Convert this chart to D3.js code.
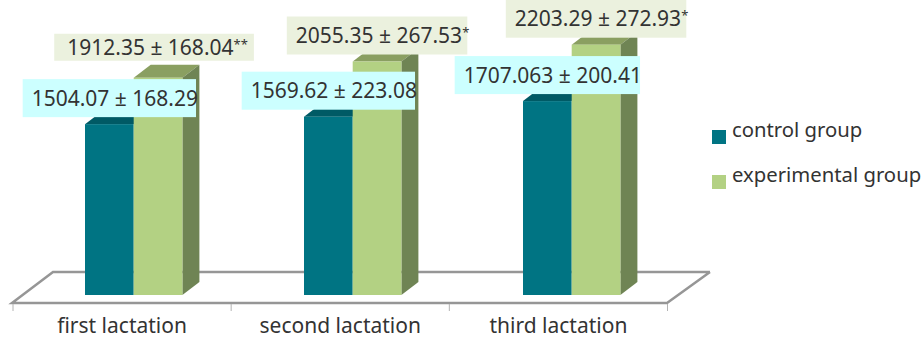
<!DOCTYPE html>
<html>
<head>
<meta charset="utf-8">
<script src="https://cdn.jsdelivr.net/npm/d3@7"></script>
<style>
	html, body {margin: 0; padding: 0; background: #fff}
	svg {display: block}
	text {font-family: "Noto Sans", sans-serif; fill: #333}
</style>
</head>
<body>
<svg id="chart" width="923" height="340"></svg>
<script>
var categories = ['first lactation', 'second lactation', 'third lactation']
var series_names = ['control group', 'experimental group']
var control_values = [1504.07, 1569.62, 1707.063]
var experimental_values = [1912.35, 2055.35, 2203.29]
var control_labels = ['1504.07 ± 168.29', '1569.62 ± 223.08', '1707.063 ± 200.41']
var experimental_labels = ['1912.35 ± 168.04', '2055.35 ± 267.53', '2203.29 ± 272.93']
var experimental_marks = ['**', '*', '*']

function main(){
	var svg = d3.select('svg#chart')
	var base = 295, depth_x = 17, depth_y = 13, bar_w = 48.7
	var colors = {
		control: {front: '#007483', top: '#005a65'},
		experimental: {front: '#b3d183', top: '#8a9f61', side: '#6f8454'}
	}

	var x = d3.scaleBand().domain(categories).range([13, 667.5])
	// bars drift a little against the axis bands in the original
	var x_bars = d3.scaleBand().domain(categories).range([85, 742])
	var y = d3.scaleLinear().domain([0, 2500]).range([base, base - 284])

	// floor of the 3d box
	svg.append('path')
		.attr('d', d3.line()([[710, 272], [53, 272], [12, 303], [667, 303], [710, 272]]))
		.attr('fill', 'none')
		.attr('stroke', '#969696')
		.attr('stroke-width', 2.5)

	// axis, ticks sit on band edges so labels are drawn by the axis without ticks
	var axis = svg.append('g')
		.attr('transform', 'translate(0,304)')
		.call(d3.axisBottom(x).tickSize(0).tickPadding(14))
	axis.select('.domain').remove()
	axis.selectAll('text').style('font-size', '21px').attr('fill', '#333')
	svg.selectAll('line.tick')
		.data(categories.concat(['end']))
		.enter()
		.append('line')
		.attr('class', 'tick')
		.attr('x1', function(d, i){return 13 + i * x.step()})
		.attr('x2', function(d, i){return 13 + i * x.step()})
		.attr('y1', 304)
		.attr('y2', 311)
		.attr('stroke', '#b4b4b4')

	var left = function(c){return x_bars(c)}

	function draw_bars(values, off, col){
		var g = svg.append('g')
		categories.forEach(function(c, i){
			var x0 = left(c) + off, x1 = x0 + bar_w, top = y(values[i])
			g.append('path')
				.attr('d', d3.line()([[x0, top], [x0 + depth_x, top - depth_y], [x1 + depth_x, top - depth_y], [x1, top]]) + 'Z')
				.attr('fill', col.top)
			if(col.side){
				g.append('path')
					.attr('d', d3.line()([[x1, top], [x1 + depth_x, top - depth_y], [x1 + depth_x, base - depth_y], [x1, base]]) + 'Z')
					.attr('fill', col.side)
			}
			g.append('rect')
				.attr('x', x0)
				.attr('y', top)
				.attr('width', bar_w)
				.attr('height', base - top)
				.attr('fill', col.front)
		})
	}
	draw_bars(control_values, 0, colors.control)
	draw_bars(experimental_values, bar_w, colors.experimental)

	function draw_labels(values, labels, marks, off, fill){
		categories.forEach(function(c, i){
			var first_exp = marks && i === 0
			var cx = left(c) + off + bar_w / 2
			var cy = y(values[i]) - (first_exp ? 30.5 : 26)
			var h = first_exp ? 27 : 38
			var g = svg.append('g')
			var r = g.append('rect').attr('fill', fill)
			var t = g.append('text')
				.attr('y', cy + 7.5)
				.style('font-size', '21px')
				.text(labels[i])
			if(marks){
				t.append('tspan')
					.attr('dy', -6)
					.style('font-size', '13px')
					.text(marks[i])
			}
			var w = t.node().getComputedTextLength()
			var box_w = first_exp ? w + 19 : w + 7
			var bx = cx - box_w / 2 - (first_exp ? 4 : 0)
			r.attr('x', bx).attr('y', cy - h / 2).attr('width', box_w).attr('height', h)
			t.attr('x', bx + (first_exp ? 13 : 9))
		})
	}
	draw_labels(experimental_values, experimental_labels, experimental_marks, bar_w, '#ebf1de')
	draw_labels(control_values, control_labels, null, 0, '#ccffff')

	// legend
	var legend = svg.selectAll('g.legend')
		.data(series_names)
		.enter()
		.append('g')
		.attr('class', 'legend')
		.attr('transform', function(d, i){return 'translate(712,' + (130 + i * 45) + ')'})
	legend.append('rect')
		.attr('width', 14)
		.attr('height', 14)
		.attr('fill', function(d, i){return i === 0 ? colors.control.front : colors.experimental.front})
	legend.append('text')
		.attr('x', 20)
		.attr('y', 7)
		.style('font-size', '20.3px')
		.text(function(d){return d})
}
main()
</script>
</body>
</html>
